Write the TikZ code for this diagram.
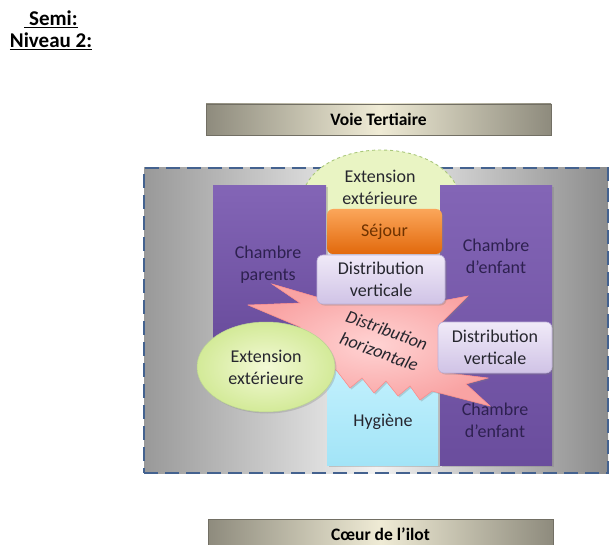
\documentclass[tikz,border=0pt]{standalone}
\usepackage{fontspec}
\setmainfont{Carlito}
\usetikzlibrary{shapes.geometric,shadows}
\definecolor{frameblue}{HTML}{44628F}
\definecolor{purpA}{HTML}{8365B6}
\definecolor{purpB}{HTML}{6A4D9D}
\definecolor{purptext}{HTML}{2E2150}
\definecolor{lavA}{HTML}{F0EAF8}
\definecolor{lavB}{HTML}{D0C3E6}
\definecolor{lavdraw}{HTML}{BDB0D8}
\definecolor{orA}{HTML}{FBA65A}
\definecolor{orB}{HTML}{E2690C}
\definecolor{ortext}{HTML}{6E3200}
\definecolor{cyA}{HTML}{CBF4FF}
\definecolor{cyB}{HTML}{A2E4F7}
\definecolor{grnA}{HTML}{F3F9D6}
\definecolor{grnB}{HTML}{D3EA98}
\definecolor{grndraw}{HTML}{A9C77A}
\definecolor{pinkA}{HTML}{FFD3D3}
\definecolor{pinkB}{HTML}{F9A3A3}
\definecolor{bardark}{HTML}{8E8B7D}
\definecolor{barlight}{HTML}{EFEBD5}
\definecolor{darktext}{HTML}{26262E}
\tikzset{
  lbl/.style={font=\fontsize{18}{22}\selectfont, align=center, inner sep=0pt},
  room/.style={rectangle, inner sep=0pt, drop shadow={shadow xshift=1.5pt, shadow yshift=-1.5pt, opacity=0.35}},
  purproom/.style={room, top color=purpA, bottom color=purpB},
  dvbox/.style={room, rounded corners=6pt, top color=lavA, bottom color=lavB, draw=lavdraw, line width=0.6pt, lbl, text=darktext},
  roadbar/.style={rectangle, inner sep=0pt, left color=bardark, right color=bardark, middle color=barlight,
     draw=bardark!80!black, line width=0.4pt, font=\bfseries\fontsize{17.5}{19}\selectfont, text=black,
     drop shadow={shadow xshift=1pt, shadow yshift=-1.5pt, opacity=0.4}}
}
\begin{document}
\begin{tikzpicture}[x=1pt,y=-1pt]
\useasboundingbox (0,0) rectangle (610,545);
\fill[white] (0,0) rectangle (610,545);

% title
\node[font=\bfseries\fontsize{21}{22}\selectfont, align=center, inner sep=0pt] (title) at (51,30)
  {\underline{\ Semi:}\\\underline{Niveau 2:}};

% roads
\node[roadbar, minimum width=345pt, minimum height=31pt] (voie) at (378.5,119.5) {Voie Tertiaire};
\node[roadbar, minimum width=345pt, minimum height=30pt] (coeur) at (380.5,534) {C\oe ur de l’ilot};

% dashed container
\node[rectangle, inner sep=0pt, minimum width=464pt, minimum height=305pt,
  left color=black!40, right color=black!45, middle color=black!5,
  draw=frameblue, line width=1.8pt, dash pattern=on 14pt off 7pt] (plot) at (376,320.5) {};

% top exterior extension
\node[ellipse, inner sep=0pt, minimum width=157pt, minimum height=100pt, fill=grnA!70!grnB,
  draw=grndraw, dashed, line width=0.9pt] (exttop) at (381,200) {};

% rooms
\node[purproom, minimum width=113pt, minimum height=152pt] (parents) at (269.5,262) {};
\node[purproom, minimum width=112pt, minimum height=279pt] (enfant) at (496,325.5) {};
\node[room, top color=cyA, bottom color=cyB, minimum width=111pt, minimum height=125pt] (hyg) at (382.5,402.5) {};
\node[room, rounded corners=6pt, top color=orA, bottom color=orB, minimum width=115pt, minimum height=45pt,
  lbl, text=ortext] (sejour) at (384.5,231.5) {Séjour};

% labels of rooms
\node[lbl, text=darktext] (exttoptxt) at (380,187) {Extension\\extérieure};
\node[lbl, text=purptext] (parentstxt) at (268,265) {Chambre\\parents};
\node[lbl, text=purptext] (enfanttxt) at (496,256) {Chambre\\d’enfant};
\node[lbl, text=purptext] (enfant2txt) at (495,420) {Chambre\\d’enfant};
\node[lbl, text=darktext] (hygtxt) at (383,422) {Hygiène};

% horizontal distribution burst
\path[fill=pinkB, draw=pinkB!85!red, line width=0.5pt,
  drop shadow={shadow xshift=1.5pt, shadow yshift=-1.5pt, opacity=0.3},
  inner color=pinkA, outer color=pinkB]
  (272,284) -- (320,298) -- (380,290) -- (425,304) -- (468,296) -- (440,324)
  -- (500,335) -- (440,372) -- (488,378) -- (466,384) -- (490,406) -- (432,391)
  -- (420,400) -- (410,386) -- (398,396) -- (386,381) -- (374,393) -- (362,378)
  -- (350,388) -- (337,371) -- (310,350) -- (300,327) -- (248,305) -- (300,303) -- cycle;

% vertical distributions
\node[dvbox, minimum width=128pt, minimum height=49pt] (dvtop) at (381,279.5) {Distribution\\verticale};
\node[dvbox, minimum width=114pt, minimum height=51pt] (dvright) at (495,347.5) {Distribution\\verticale};

% left exterior extension
\node[ellipse, inner sep=0pt, minimum width=138pt, minimum height=90pt, inner color=grnA, outer color=grnB,
  draw=grndraw!80!white, line width=0.5pt,
  drop shadow={shadow xshift=1.5pt, shadow yshift=-1.5pt, opacity=0.3},
  lbl, text=darktext] (extleft) at (266,367) {Extension\\extérieure};

% burst text
\node[lbl, font=\itshape\fontsize{18}{23}\selectfont, text=darktext, rotate=-20] (horiz) at (383,341)
  {Distribution\\horizontale};
\end{tikzpicture}
\end{document}
